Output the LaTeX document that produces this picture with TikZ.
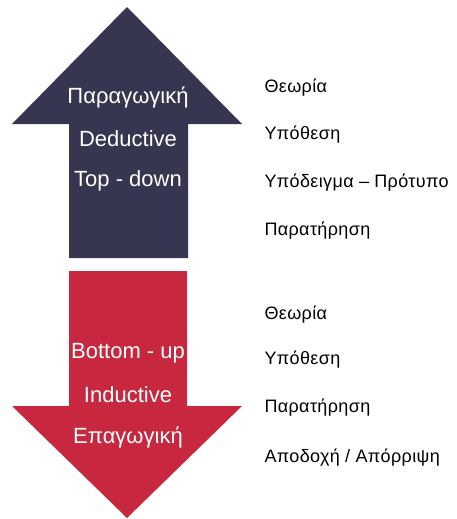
\documentclass[tikz,border=0pt]{standalone}
\usepackage{fontspec}
\setmainfont{Liberation Sans}
\definecolor{navy}{HTML}{363650}
\definecolor{crimson}{HTML}{C8283F}
\tikzset{
  arrowtext/.style={text=white,font=\fontsize{22}{24}\selectfont,anchor=center},
  stage/.style={text=black,font=\fontsize{18}{20}\selectfont\addfontfeatures{LetterSpace=2},anchor=west}
}
\begin{document}
\begin{tikzpicture}[x=1pt,y=-1pt]
\useasboundingbox (0,0) rectangle (456,519);
\fill[navy] (127,7)--(242,124)--(188,124)--(188,258)--(69,258)--(69,124)--(12,124)--cycle;
\fill[crimson] (69,271)--(187,271)--(187,406)--(242,406)--(127,518)--(12,406)--(69,406)--cycle;
\node[arrowtext] (ded1) at (128,97) {Παραγωγική};
\node[arrowtext] (ded2) at (128,139) {Deductive};
\node[arrowtext] (ded3) at (128,181) {Top - down};
\node[arrowtext] (ind1) at (128,353) {Bottom - up};
\node[arrowtext] (ind2) at (128,395) {Inductive};
\node[arrowtext] (ind3) at (128,437) {Επαγωγική};
\node[stage] (up1) at (261,88) {Θεωρία};
\node[stage] (up2) at (261,135) {Υπόθεση};
\node[stage] (up3) at (261,183) {Υπόδειγμα – Πρότυπο};
\node[stage] (up4) at (261,231) {Παρατήρηση};
\node[stage] (dn1) at (261,315) {Θεωρία};
\node[stage] (dn2) at (261,360) {Υπόθεση};
\node[stage] (dn3) at (261,408) {Παρατήρηση};
\node[stage] (dn4) at (261,458) {Αποδοχή / Απόρριψη};
\end{tikzpicture}
\end{document}
